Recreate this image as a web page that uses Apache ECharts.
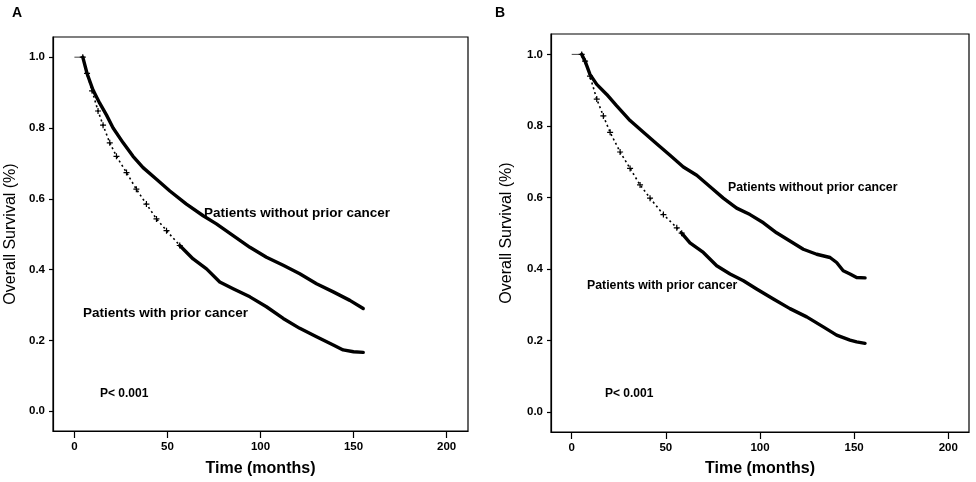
<!DOCTYPE html>
<html><head><meta charset="utf-8">
<script src="https://cdn.jsdelivr.net/npm/echarts@6/dist/echarts.min.js"></script>
<style>html,body{margin:0;padding:0;background:#fff}#c{width:976px;height:482px}</style>
</head><body><div id="c"></div>
<script>
// ---- data ----
const xTicks = [0, 50, 100, 150, 200];
const yTicks = [0, 0.2, 0.4, 0.6, 0.8, 1.0];

// Panel A
const withoutA = [[0,1],[4.5,1],[6.8,0.954],[10,0.907],[13.6,0.870],[17.2,0.837],[20.8,0.800],[26.2,0.758],[31.5,0.720],[36.9,0.688],[44.1,0.655],[51.3,0.622],[60.2,0.585],[69.2,0.552],[76.3,0.529],[85.3,0.496],[94.3,0.463],[103.2,0.435],[112.2,0.412],[121.1,0.388],[130.1,0.360],[139.1,0.337],[148.0,0.313],[155.2,0.290]];
const withA = [[0,1],[4.5,1],[6.8,0.954],[9.5,0.905],[12.7,0.848],[15.4,0.808],[19.0,0.758],[22.6,0.720],[28.0,0.674],[33.3,0.627],[38.7,0.585],[44.1,0.543],[49.5,0.510],[56.6,0.468],[63.8,0.430],[71.0,0.402],[78.1,0.365],[85.3,0.346],[94.3,0.323],[103.2,0.295],[112.2,0.262],[121.1,0.234],[130.1,0.210],[139.1,0.187],[144.4,0.173],[150.0,0.168],[155.2,0.166]];

// Panel B
const withoutB = [[0,1],[5.3,1],[7.1,0.981],[9.7,0.944],[13.3,0.916],[18.6,0.888],[23.9,0.856],[31.0,0.815],[38.1,0.782],[45.1,0.750],[52.2,0.718],[59.3,0.685],[66.4,0.662],[73.5,0.630],[80.5,0.598],[87.6,0.570],[94.7,0.552],[101.8,0.529],[108.8,0.501],[115.9,0.478],[123.0,0.455],[130.1,0.441],[137.2,0.432],[140.7,0.418],[144.2,0.395],[147.8,0.386],[151.3,0.376],[155.8,0.375]];
const withB = [[0,1],[5.3,1],[7.1,0.981],[9.7,0.939],[13.3,0.875],[16.8,0.828],[20.4,0.782],[25.7,0.727],[31.0,0.681],[36.3,0.635],[41.6,0.598],[48.7,0.552],[55.8,0.515],[58.4,0.500],[62.8,0.473],[69.9,0.446],[77.0,0.409],[84.1,0.386],[91.2,0.367],[98.2,0.344],[107.1,0.316],[115.9,0.289],[124.8,0.266],[133.6,0.238],[140.7,0.215],[147.8,0.201],[151.3,0.196],[155.8,0.192]];

const labelWithout = 'Patients without prior cancer';
const labelWith = 'Patients with prior cancer';
const pText = 'P< 0.001';

// ---- style/config ----
const FONT = '"Liberation Sans", Arial, sans-serif';
const dottedUntilA = 56.6, dottedUntilB = 58.4;
const plusPath = 'path://M4,0 L6,0 L6,4 L10,4 L10,6 L6,6 L6,10 L4,10 L4,6 L0,6 L0,4 L4,4 Z';

function xAxis(g, min, max, gap) {
  return {
    gridIndex: g, type: 'value', min: min, max: max,
    axisLine: {show: true, onZero: false, lineStyle: {color: '#000', width: 1.2}},
    axisTick: {show: true, customValues: xTicks, length: 7, lineStyle: {color: '#000', width: 1.2}},
    axisLabel: {customValues: xTicks, color: '#000', fontWeight: 'bold', fontSize: 11.5, fontFamily: FONT, margin: 10},
    splitLine: {show: false},
    name: 'Time (months)', nameLocation: 'middle', nameGap: gap,
    nameTextStyle: {color: '#000', fontSize: 16, fontWeight: 'bold', fontFamily: FONT}
  };
}
function yAxis(g, gap) {
  return {
    gridIndex: g, type: 'value', min: -0.056, max: 1.057,
    axisLine: {show: true, onZero: false, lineStyle: {color: '#000', width: 1.2}},
    axisTick: {show: true, customValues: yTicks, length: 4, lineStyle: {color: '#000', width: 1.2}},
    axisLabel: {customValues: yTicks, formatter: v => v.toFixed(1), color: '#000', fontWeight: 'bold', fontSize: 11.5, fontFamily: FONT, margin: 8},
    splitLine: {show: false},
    name: 'Overall Survival (%)', nameLocation: 'middle', nameGap: gap,
    nameTextStyle: {color: '#000', fontSize: 16, fontFamily: FONT}
  };
}
function thin(pts, g) {
  return {type: 'line', xAxisIndex: g, yAxisIndex: g, data: pts.slice(0, 2), showSymbol: false,
    lineStyle: {color: '#444', width: 1}, silent: true, z: 3};
}
function thick(pts, g) {
  return {type: 'line', xAxisIndex: g, yAxisIndex: g, data: pts.slice(1), showSymbol: false,
    lineStyle: {color: '#000', width: 3.4, join: 'round', cap: 'round'}, silent: true, z: 4};
}
function dotted(pts, g, until) {
  return {type: 'line', xAxisIndex: g, yAxisIndex: g, data: pts.slice(1).filter(p => p[0] <= until),
    showSymbol: true, symbol: plusPath, symbolSize: 6, itemStyle: {color: '#000'},
    lineStyle: {color: '#000', width: 1.6, type: [2, 3]}, silent: true, z: 4};
}
function solidAfter(pts, g, until) {
  return {type: 'line', xAxisIndex: g, yAxisIndex: g, data: pts.filter(p => p[0] >= until),
    showSymbol: false, lineStyle: {color: '#000', width: 3.4, join: 'round', cap: 'round'}, silent: true, z: 4};
}

const chart = echarts.init(document.getElementById('c'), null, {renderer: 'canvas'});
chart.setOption({
  animation: false,
  backgroundColor: '#fff',
  grid: [
    {left: 53, top: 37, width: 415, height: 396, show: true, borderColor: '#000', borderWidth: 1.2, containLabel: false},
    {left: 551, top: 34, width: 418, height: 402, show: true, borderColor: '#000', borderWidth: 1.2, containLabel: false}
  ],
  xAxis: [xAxis(0, -11.5, 211.5, 30), xAxis(1, -11, 211, 29)],
  yAxis: [yAxis(0, 34), yAxis(1, 36)],
  series: [
    thin(withoutA, 0), thick(withoutA, 0), dotted(withA, 0, dottedUntilA), solidAfter(withA, 0, dottedUntilA),
    thin(withoutB, 1), thick(withoutB, 1), dotted(withB, 1, dottedUntilB), solidAfter(withB, 1, dottedUntilB)
  ],
  graphic: [
    {type: 'text', left: 12, top: 6, style: {text: 'A', fill: '#000', font: 'bold 14px ' + FONT}},
    {type: 'text', left: 495, top: 6, style: {text: 'B', fill: '#000', font: 'bold 14px ' + FONT}},
    {type: 'text', left: 204, top: 206, style: {text: labelWithout, fill: '#000', font: 'bold 13.5px ' + FONT}},
    {type: 'text', left: 83, top: 306, style: {text: labelWith, fill: '#000', font: 'bold 13.5px ' + FONT}},
    {type: 'text', left: 100, top: 388, style: {text: pText, fill: '#000', font: 'bold 12px ' + FONT}},
    {type: 'text', left: 728, top: 182, style: {text: labelWithout, fill: '#000', font: 'bold 12.3px ' + FONT}},
    {type: 'text', left: 587, top: 280, style: {text: labelWith, fill: '#000', font: 'bold 12.3px ' + FONT}},
    {type: 'text', left: 605, top: 388, style: {text: pText, fill: '#000', font: 'bold 12px ' + FONT}}
  ]
});
</script></body></html>
